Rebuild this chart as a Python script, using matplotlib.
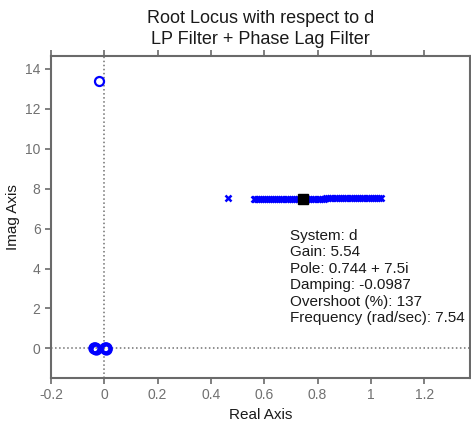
import matplotlib
matplotlib.use("Agg")
import matplotlib.pyplot as plt

plt.rcParams['font.family'] = ['Liberation Sans', 'DejaVu Sans']

title_lines = ["Root Locus with respect to d", "LP Filter + Phase Lag Filter"]
x_label = "Real Axis"
y_label = "Imag Axis"
x_ticks = [-0.2, 0, 0.2, 0.4, 0.6, 0.8, 1, 1.2]
x_tick_labels = ["-0.2", "0", "0.2", "0.4", "0.6", "0.8", "1", "1.2"]
y_ticks = [0, 2, 4, 6, 8, 10, 12, 14]

# open-loop zeros (circles)
zero_re = [-0.02]
zero_im = [13.4]
# clustered zeros near origin
origin_re = [-0.040, -0.036, -0.032, 0.001, 0.005, 0.008]
origin_im = [0.02, 0.0, -0.02, 0.02, 0.0, -0.02]

# locus points (x markers)
locus_re = [0.465, 0.560, 0.567, 0.574, 0.581, 0.588, 0.595, 0.603, 0.611, 0.618,
            0.626, 0.633, 0.641, 0.649, 0.657, 0.664, 0.672, 0.680, 0.688, 0.696,
            0.704, 0.712, 0.720, 0.728, 0.736, 0.744, 0.752, 0.760, 0.768, 0.776,
            0.784, 0.792, 0.800, 0.808, 0.816, 0.824, 0.832, 0.840, 0.848, 0.856,
            0.864, 0.872, 0.880, 0.888, 0.896, 0.904, 0.912, 0.920, 0.928, 0.936,
            0.944, 0.952, 0.960, 0.968, 0.976, 0.984, 0.992, 1.000, 1.008, 1.016,
            1.024, 1.032, 1.038]
locus_im = [7.53, 7.49, 7.49, 7.49, 7.49, 7.49, 7.49, 7.49, 7.49, 7.49,
            7.49, 7.49, 7.49, 7.49, 7.49, 7.49, 7.49, 7.50, 7.50, 7.50,
            7.50, 7.50, 7.50, 7.50, 7.50, 7.50, 7.50, 7.50, 7.50, 7.50,
            7.50, 7.50, 7.50, 7.50, 7.50, 7.50, 7.51, 7.51, 7.51, 7.51,
            7.51, 7.51, 7.52, 7.53, 7.54, 7.54, 7.54, 7.54, 7.54, 7.54,
            7.54, 7.54, 7.54, 7.54, 7.54, 7.54, 7.54, 7.54, 7.54, 7.54,
            7.54, 7.54, 7.54]

# selected data tip
tip_re = 0.744
tip_im = 7.5
tip_lines = ["System: d", "Gain: 5.54", "Pole: 0.744 + 7.5i", "Damping: -0.0987",
             "Overshoot (%): 137", "Frequency (rad/sec): 7.54"]

fig = plt.figure(figsize=(4.71, 4.25), dpi=100)
ax = fig.add_axes([0.1083, 0.1113, 0.889, 0.7569])

gray = '#6a6a6a'
ax.axhline(0, color='#707070', linestyle=':', linewidth=1.1, zorder=1)
ax.axvline(0, color='#707070', linestyle=':', linewidth=1.1, zorder=1)

ax.plot(locus_re, locus_im, linestyle='none', marker='x', color='#0000ff',
        markersize=3.8, markeredgewidth=1.8, zorder=3)
ax.plot(zero_re, zero_im, linestyle='none', marker='o', color='#0000ff',
        markerfacecolor='none', markersize=6.5, markeredgewidth=1.6, zorder=3)
ax.plot(origin_re, origin_im, linestyle='none', marker='o', color='#0000ff',
        markerfacecolor='none', markersize=6.5, markeredgewidth=2.4, zorder=3)
ax.plot([tip_re], [tip_im], linestyle='none', marker='s', color='black',
        markersize=6.5, zorder=4)

ax.text(0.696, 6.0, "\n".join(tip_lines), fontsize=11, color='#1a1a1a',
        ha='left', va='top', linespacing=1.23, zorder=5)

ax.set_xlim(-0.196, 1.371)
ax.set_ylim(-1.47, 14.65)
ax.set_xticks(x_ticks)
ax.set_xticklabels(x_tick_labels)
ax.set_yticks(y_ticks)

ax.tick_params(axis='both', which='both', direction='out', length=4, width=1.2,
               colors=gray, labelsize=10, labelcolor='#707070',
               top=True, right=False, labeltop=False)
for s in ax.spines.values():
    s.set_color(gray)
    s.set_linewidth(1.5)

ax.set_xlabel(x_label, fontsize=11, color='#1a1a1a', labelpad=4)
ax.set_ylabel(y_label, fontsize=11, color='#1a1a1a', labelpad=4)
ax.set_title("\n".join(title_lines), fontsize=13, color='#1a1a1a', pad=9, linespacing=1.27)

fig.savefig("out.png", dpi=100)
